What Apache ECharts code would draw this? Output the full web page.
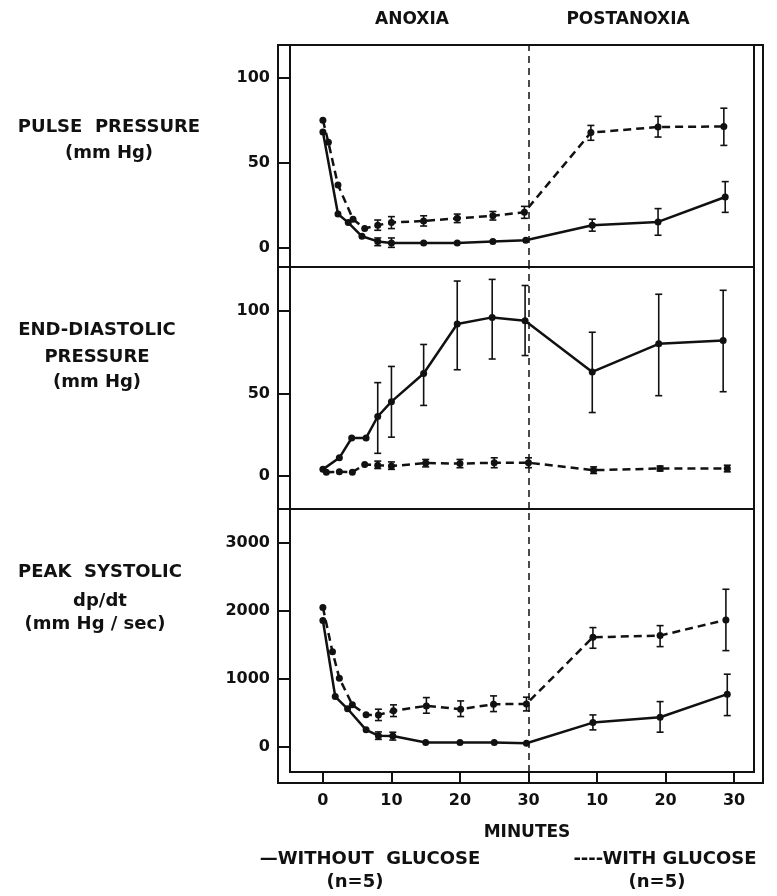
<!DOCTYPE html>
<html>
<head>
<meta charset="utf-8">
<script src="https://cdn.jsdelivr.net/npm/echarts@6/dist/echarts.min.js"></script>
<style>
  html, body { margin: 0; padding: 0; background: #fff; }
  #main { width: 777px; height: 896px; }
</style>
</head>
<body>
<div id="main"></div>
<script>
// minutes: 0-30 anoxia, 30-60 postanoxia (labelled 10,20,30 again)
const xTicks = [0, 10, 20, 30, 40, 50, 60];

// pulse pressure (mm Hg)  [minute, value]
const ppWithout = [[0, 68], [2.2, 20], [3.7, 15], [5.7, 7], [8, 4], [10, 3], [14.7, 3], [19.6, 3], [24.8, 4], [29.6, 4.7], [39.3, 13.5], [48.9, 15.4], [58.7, 30]];
const ppWithoutErr = [[8, 1.5, 6], [10, 0.5, 6], [39.3, 10, 17], [48.9, 7.6, 23.2], [58.7, 21, 39]];
const ppWith = [[0, 75], [0.8, 62], [2.2, 37], [4.4, 17], [6.1, 11.5], [8, 13.5], [10, 15], [14.7, 16], [19.6, 17.5], [24.8, 19], [29.4, 21], [39.1, 67.7], [48.9, 71], [58.5, 71.3]];
const ppWithErr = [[8, 10.5, 16.5], [10, 11.5, 18.5], [14.7, 13, 19], [19.6, 15, 20], [24.8, 16.5, 21.5], [29.4, 17.5, 24.5], [39.1, 63.2, 71.9], [48.9, 65.1, 77.2], [58.5, 60.2, 82]];

// end-diastolic pressure (mm Hg)
const edpWithout = [[0, 4], [2.4, 11], [4.2, 23], [6.3, 23], [8, 36], [10, 45], [14.7, 62], [19.6, 92], [24.7, 96], [29.5, 94], [39.3, 63], [49, 80], [58.4, 82]];
const edpWithoutErr = [[8, 13.7, 56.5], [10, 23.5, 66.3], [14.7, 42.7, 79.6], [19.6, 64.3, 118], [24.7, 70.8, 119], [29.5, 72.9, 115.3], [39.3, 38.4, 87], [49, 48.6, 110], [58.4, 51, 112.4]];
const edpWith = [[0.5, 2.2], [2.4, 2.5], [4.3, 2.3], [6.1, 7], [8, 6.5], [10, 6], [15, 7.8], [20, 7.5], [25, 8], [30, 8], [39.5, 3.5], [49.2, 4.5], [59, 4.5]];
const edpWithErr = [[8, 4.5, 9], [10, 4, 8.5], [15, 5.5, 10], [20, 5, 10], [25, 5, 11], [30, 5, 11], [39.5, 1.5, 5.5], [49.2, 3, 6], [59, 2.5, 6.5]];

// peak systolic dp/dt (mm Hg/sec)
const dpWithout = [[0, 1860], [1.8, 740], [3.6, 560], [6.3, 250], [8.1, 165], [10.2, 160], [15, 64], [20, 64], [25, 64], [29.7, 54], [39.4, 357], [49.2, 436], [59, 775]];
const dpWithoutErr = [[8.1, 110, 220], [10.2, 100, 215], [39.4, 250, 470], [49.2, 216, 666], [59, 460, 1069]];
const dpWith = [[0, 2050], [1.4, 1400], [2.4, 1010], [4.3, 618], [6.3, 471], [8.1, 470], [10.3, 530], [15.1, 603], [20.1, 554], [24.9, 627], [29.7, 632], [39.4, 1613], [49.2, 1637], [58.8, 1868]];
const dpWithErr = [[8.1, 387, 554], [10.3, 446, 618], [15.1, 495, 725], [20.1, 446, 676], [24.9, 519, 750], [29.7, 529, 731], [39.4, 1451, 1755], [49.2, 1475, 1784], [58.8, 1416, 2319]];

const yTicks = [[0, 50, 100], [0, 50, 100], [0, 1000, 2000, 3000]];
const yRange = [[-11, 119], [-20, 126.5], [-370, 3500]];

const INK = '#111';

const chart = echarts.init(document.getElementById('main'));

const gridTops = [45, 267, 509];
const gridHeights = [222, 242, 263];

function renderErr(params, api) {
  const x = api.value(0);
  const lo = api.coord([x, api.value(1)]);
  const hi = api.coord([x, api.value(2)]);
  const w = 3.5;
  const st = { stroke: INK, lineWidth: 1.6 };
  return {
    type: 'group',
    children: [
      { type: 'line', shape: { x1: lo[0], y1: lo[1], x2: hi[0], y2: hi[1] }, style: st },
      { type: 'line', shape: { x1: lo[0] - w, y1: lo[1], x2: lo[0] + w, y2: lo[1] }, style: st },
      { type: 'line', shape: { x1: hi[0] - w, y1: hi[1], x2: hi[0] + w, y2: hi[1] }, style: st }
    ]
  };
}

const panels = [
  [ppWithout, ppWithoutErr, ppWith, ppWithErr],
  [edpWithout, edpWithoutErr, edpWith, edpWithErr],
  [dpWithout, dpWithoutErr, dpWith, dpWithErr]
];

const grid = [], xAxis = [], yAxis = [], series = [];
panels.forEach((p, i) => {
  grid.push({
    left: 290, right: 23, top: gridTops[i], height: gridHeights[i],
    show: true, borderColor: INK, borderWidth: 2, backgroundColor: 'transparent'
  });
  const last = i === 2;
  xAxis.push({
    type: 'value', gridIndex: i, min: -4.8, max: 62.9,
    position: 'bottom',
    offset: last ? 11 : 0,
    axisLine: { show: false, onZero: false },
    splitLine: { show: false },
    axisTick: { show: last, inside: true, length: 11, customValues: xTicks, lineStyle: { color: INK, width: 2 } },
    axisLabel: {
      show: last, customValues: xTicks, margin: 10, color: INK,
      fontFamily: 'DejaVu Sans', fontWeight: 'bold', fontSize: 16,
      formatter: v => String(v > 30 ? v - 30 : v)
    }
  });
  const tickVals = i < 2 ? [yRange[i][0]].concat(yTicks[i]) : yTicks[i];
  yAxis.push({
    type: 'value', gridIndex: i, min: yRange[i][0], max: yRange[i][1],
    position: 'left',
    offset: 12,
    axisLine: { show: false, onZero: false },
    splitLine: { show: false },
    axisTick: { show: true, inside: true, length: 12, customValues: tickVals, lineStyle: { color: INK, width: 2 } },
    axisLabel: {
      customValues: yTicks[i], margin: 8, color: INK,
      fontFamily: 'DejaVu Sans', fontWeight: 'bold', fontSize: 16,
      formatter: v => String(v)
    }
  });
  series.push({
    type: 'line', xAxisIndex: i, yAxisIndex: i, data: p[0],
    symbol: 'circle', symbolSize: 7, itemStyle: { color: INK },
    lineStyle: { color: INK, width: 2.5 }, z: 5, animation: false
  });
  series.push({
    type: 'custom', xAxisIndex: i, yAxisIndex: i, data: p[1],
    renderItem: renderErr, encode: { x: 0, y: [1, 2] }, z: 4, animation: false
  });
  series.push({
    type: 'line', xAxisIndex: i, yAxisIndex: i, data: p[2],
    symbol: 'circle', symbolSize: 7, itemStyle: { color: INK },
    lineStyle: { color: INK, width: 2.5, type: [8, 5] }, z: 5, animation: false,
    markLine: {
      silent: true, symbol: 'none', label: { show: false },
      lineStyle: { color: INK, width: 1.5, type: [7, 5] },
      data: [{ xAxis: 30 }]
    }
  });
  series.push({
    type: 'custom', xAxisIndex: i, yAxisIndex: i, data: p[3],
    renderItem: renderErr, encode: { x: 0, y: [1, 2] }, z: 4, animation: false
  });
});

function label(text, x, y, size) {
  return {
    type: 'text', x: x, y: y, silent: true,
    style: {
      text: text, fill: INK, align: 'center', verticalAlign: 'middle',
      font: 'bold ' + (size || 18) + 'px "DejaVu Sans"'
    }
  };
}

const option = {
  backgroundColor: '#fff',
  animation: false,
  grid: grid,
  xAxis: xAxis,
  yAxis: yAxis,
  series: series,
  graphic: [
    // outer frame of the figure
    { type: 'rect', silent: true, shape: { x: 278, y: 45, width: 485, height: 738 }, style: { fill: 'none', stroke: INK, lineWidth: 2 } },
    label('ANOXIA', 412, 20, 17),
    label('POSTANOXIA', 628, 20, 17),
    label('PULSE  PRESSURE', 109, 127),
    label('(mm Hg)', 109, 153),
    label('END-DIASTOLIC', 97, 330),
    label('PRESSURE', 97, 357),
    label('(mm Hg)', 97, 382),
    label('PEAK  SYSTOLIC', 100, 572),
    label('dp/dt', 100, 601),
    label('(mm Hg / sec)', 95, 624),
    label('MINUTES', 527, 833, 17),
    label('\u2014WITHOUT  GLUCOSE', 370, 859),
    label('(n=5)', 355, 882),
    label('----WITH GLUCOSE', 665, 859),
    label('(n=5)', 657, 882)
  ]
};

chart.setOption(option);
</script>
</body>
</html>
